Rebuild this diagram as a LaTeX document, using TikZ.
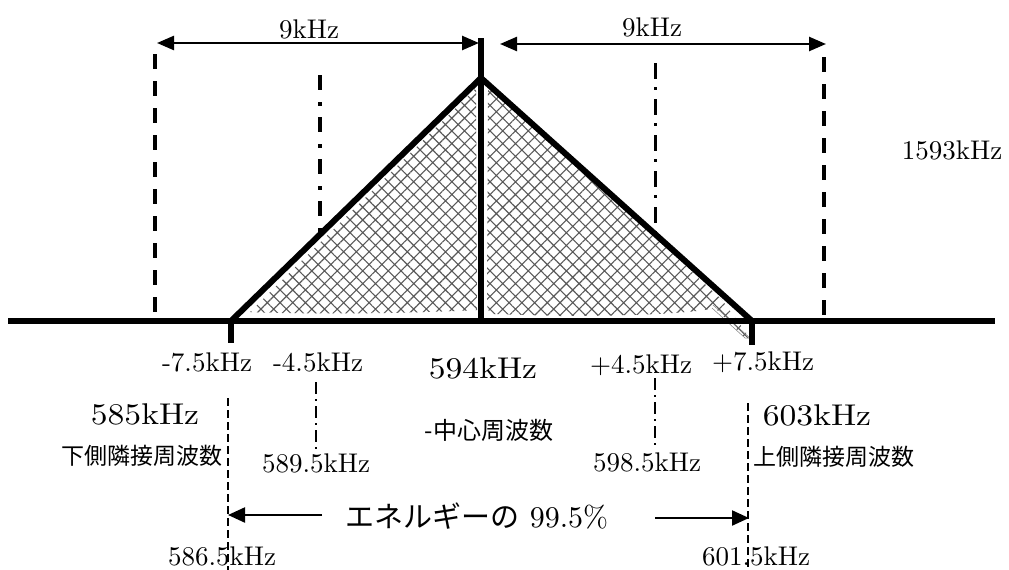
\documentclass[tikz,border=0pt]{standalone}
\usepackage{fontspec}
\setmainfont{lmroman10-regular}[Extension=.otf]
\newfontfamily\jpfont{Noto Sans CJK JP}
\usetikzlibrary{arrows.meta,patterns.meta}
\begin{document}
\begin{tikzpicture}[x=1pt,y=-1pt,
  thickline/.style={line width=6pt},
  bigdash/.style={line width=4pt,dash pattern=on 15pt off 12pt},
  bigdashdot/.style={line width=4.5pt,dash pattern=on 15pt off 12pt on 4pt off 11pt},
  meddashdot/.style={line width=3pt,dash pattern=on 16pt off 8pt on 3pt off 9pt},
  thindash/.style={line width=1.4pt,dash pattern=on 8pt off 4pt},
  thindashdot/.style={line width=1.3pt,dash pattern=on 12pt off 5pt on 2pt off 5pt},
  dimarrow/.style={line width=2.5pt,{Triangle[length=17pt,width=14pt]}-{Triangle[length=17pt,width=14pt]}},
  onearrow/.style={line width=2.2pt,-{Triangle[length=17pt,width=15pt]}},
  lbl/.style={inner sep=0pt,font=\fontsize{27}{30}\selectfont},
  biglbl/.style={inner sep=0pt,font=\fontsize{30}{32}\selectfont},
  jplbl/.style={inner sep=0pt,font=\jpfont\fontsize{23}{25}\selectfont},
  hatchfill/.style={pattern={Hatch[angle=45,distance=9pt,line width=1.1pt]},pattern color=black!65}
]
\useasboundingbox (0,0) rectangle (1009,570);

% hatched regions
\fill[hatchfill] (250,312) -- (468,96) -- (476,88) -- (477,310)
  .. controls (420,313) and (320,315) .. (250,312) -- cycle;
\fill[hatchfill] (488,90) -- (493,86) -- (722,300) -- (750,338) -- (745,338)
  -- (715,308) .. controls (700,312) and (650,316) .. (560,316)
  -- (492,314) .. controls (487,312) and (487,305) .. (487,300) -- cycle;
\draw[black!50,line width=0.5pt] (713,305) -- (750,338) -- (745,338) -- (712,308);

% coordinates
\coordinate (apex) at (481,78);
\coordinate (lfoot) at (231,321);
\coordinate (rfoot) at (752,321);
\coordinate (ctop) at (481,38);
\coordinate (cbot) at (481,321);
\coordinate (base0) at (8,321);
\coordinate (base1) at (995,321);
\coordinate (ltick) at (231,343);
\coordinate (rtick) at (752,345);

% main lines
\draw[thickline] (base0) -- (base1);
\draw[thickline] (ctop) -- (cbot);
\draw[thickline,line join=miter] (lfoot) -- (apex) -- (rfoot);
\draw[thickline] (231,318) -- (ltick);
\draw[thickline] (752,318) -- (rtick);

% dashed and dash-dot upper lines
\coordinate (ld0) at (155,54);
\coordinate (ld1) at (155,321);
\coordinate (rd0) at (824,57);
\coordinate (rd1) at (824,321);
\draw[bigdash] (ld0) -- (ld1);
\draw[bigdash] (rd0) -- (rd1);
\coordinate (ldd0) at (320,75);
\coordinate (ldd1) at (320,236);
\coordinate (rdd0) at (655,63);
\coordinate (rdd1) at (655,233);
\draw[bigdashdot] (ldd0) -- (ldd1);
\draw[meddashdot] (rdd0) -- (rdd1);

% top dimension arrows
\coordinate (la0) at (157,43);
\coordinate (la1) at (479,43);
\coordinate (ra0) at (500,44);
\coordinate (ra1) at (826,44);
\draw[dimarrow] (la0) -- (la1);
\draw[dimarrow] (ra0) -- (ra1);
\node[lbl] (k9l) at (309,29) {9kHz};
\node[lbl] (k9r) at (652,27) {9kHz};

\node[lbl] (k1593) at (952,150) {1593kHz};

% labels under axis
\node[lbl] (m75) at (207,362) {-7.5kHz};
\node[lbl] (m45) at (318,362) {-4.5kHz};
\node[biglbl] (c594) at (483,368) {\scalebox{1.12}[1]{594kHz}};
\node[lbl] (p45) at (641,365) {+4.5kHz};
\node[lbl] (p75) at (763,362) {+7.5kHz};

\node[biglbl] (k585) at (145,414) {\scalebox{1.12}[1]{585kHz}};
\node[jplbl] (lowadj) at (142,456) {下側隣接周波数};
\node[biglbl] (k603) at (817,415) {\scalebox{1.12}[1]{603kHz}};
\node[jplbl] (upadj) at (834,457) {上側隣接周波数};
\node[inner sep=0pt,font=\jpfont\fontsize{24}{26}\selectfont] (center) at (489,430) {-中心周波数};

\node[lbl] (k5895) at (316,463) {589.5kHz};
\node[lbl] (k5985) at (647,462) {598.5kHz};

% thin lower lines
\coordinate (lt0) at (228,398);
\coordinate (lt1) at (228,570);
\coordinate (rt0) at (748,403);
\coordinate (rt1) at (748,570);
\draw[thindash] (lt0) -- (lt1);
\draw[thindash] (rt0) -- (rt1);
\coordinate (ldt0) at (316,382);
\coordinate (ldt1) at (316,452);
\coordinate (rdt0) at (655,378);
\coordinate (rdt1) at (655,445);
\draw[thindashdot] (ldt0) -- (ldt1);
\draw[thindashdot] (rdt0) -- (rdt1);

% energy arrows
\node[inner sep=0pt] (energy) at (477,516) {{\jpfont\fontsize{29}{31}\selectfont エネルギーの}\hspace{10pt}{\fontsize{30}{32}\selectfont 99.5\%}};
\coordinate (ea0) at (322,515);
\coordinate (ea1) at (228,515);
\coordinate (eb0) at (655,518);
\coordinate (eb1) at (749,518);
\draw[onearrow] (ea0) -- (ea1);
\draw[onearrow] (eb0) -- (eb1);

\node[lbl] (k5865) at (222,556) {586.5kHz};
\node[lbl] (k6015) at (756,556) {601.5kHz};
\end{tikzpicture}
\end{document}
